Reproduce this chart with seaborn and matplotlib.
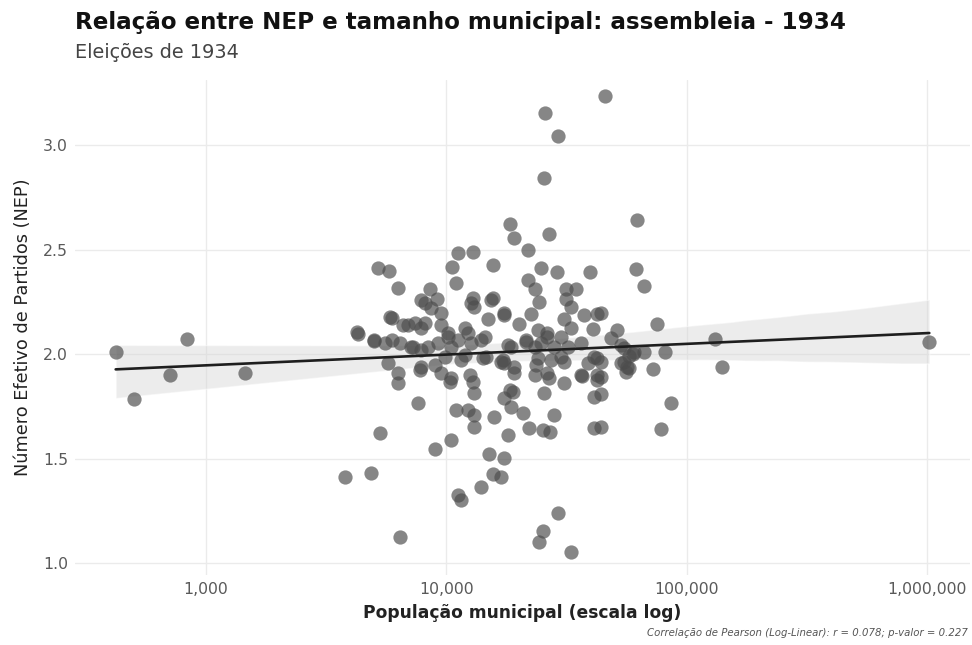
import numpy as np
import pandas as pd
import matplotlib
matplotlib.use("Agg")
import matplotlib.pyplot as plt
import matplotlib.ticker as mticker
import seaborn as sns

# log10 of municipal population
log_pop = [
    2.624, 2.700, 2.848, 2.921, 3.163, 3.627, 3.632, 3.700, 3.714, 3.723, 3.578, 3.686,
    4.660, 4.795, 4.788, 4.823, 4.876, 4.709, 4.685, 5.120, 5.148, 4.910, 4.823, 4.862,
    4.937, 4.892, 6.010, 4.643, 4.643, 4.643, 4.643, 4.643,
    4.411, 4.465, 4.407,
    4.263, 4.281, 4.339, 4.111, 4.049, 4.196, 4.025, 3.761, 4.339, 4.041, 3.800, 3.931,
    3.896, 3.963, 4.111, 4.196, 4.117, 3.938, 3.979, 4.242, 4.172, 3.765, 4.304, 3.820,
    3.868, 3.896, 3.700, 3.772, 3.806, 3.979, 4.076, 4.159, 4.007, 4.049, 4.104, 3.862,
    3.924, 3.966, 4.332, 4.270, 4.228, 4.283, 3.758, 3.800, 3.889, 4.151, 4.076,
    4.426, 4.394, 4.461, 4.599, 4.370, 4.497, 4.539, 4.387, 4.497, 4.519, 4.353, 4.574,
    4.627, 4.488, 4.519, 4.609, 4.380, 4.421, 4.477, 4.560, 4.332, 4.367, 4.450, 4.505,
    4.740, 4.781, 4.242, 4.373, 4.436, 4.491, 4.588, 4.615, 4.726, 4.761, 4.283, 4.421,
    4.560, 4.629, 4.367,
    3.800, 3.883, 3.979, 4.014, 4.097, 4.111, 4.117, 4.041, 4.090, 4.117, 4.117, 4.200,
    4.242, 4.276, 4.270, 4.318, 4.346, 4.256, 4.021, 3.951, 4.179, 4.242, 4.193, 4.228,
    4.145, 4.049, 4.062, 3.806,
    4.429, 4.491, 4.564, 4.629, 4.747, 4.408, 4.615, 4.450, 4.401, 4.433, 4.615, 4.465,
    4.401, 4.387, 4.519,
    4.007, 4.090, 4.021, 4.145, 4.166, 4.062, 3.993, 3.896, 3.855, 3.744, 3.896, 3.951,
    4.021, 4.187, 4.104, 3.910, 3.772, 3.841, 3.910, 4.242, 4.235,
    4.421, 4.256, 4.394, 4.726, 4.380, 4.477, 4.629, 4.263,
    4.760, 4.740, 4.775, 4.752,
]

# Effective number of parties (NEP)
nep = [
    2.008, 1.785, 1.900, 2.072, 1.911, 2.107, 2.095, 2.062, 2.410, 1.620, 1.413, 1.430,
    3.236, 2.641, 2.407, 2.325, 2.142, 2.115, 2.075, 2.070, 1.939, 2.011, 2.011, 1.928,
    1.764, 1.643, 2.059, 2.196, 1.960, 1.890, 1.810, 1.650,
    3.153, 3.043, 2.842,
    2.620, 2.554, 2.498, 2.490, 2.482, 2.426, 2.418, 2.397, 2.354, 2.341, 2.314, 2.309,
    2.258, 2.262, 2.266, 2.269, 2.226, 2.218, 2.194, 2.198, 2.167, 2.176, 2.144, 2.139,
    2.150, 2.123, 2.067, 2.067, 2.051, 2.139, 2.123, 2.083, 2.083, 2.067, 2.051, 2.035,
    2.035, 2.051, 2.067, 2.035, 1.963, 1.939, 1.955, 1.908, 1.923, 1.979, 1.995,
    2.573, 2.413, 2.394, 2.394, 2.309, 2.309, 2.309, 2.250, 2.262, 2.223, 2.190, 2.187,
    2.190, 2.167, 2.123, 2.118, 2.115, 2.083, 2.083, 2.051, 2.059, 2.035, 2.035, 2.035,
    2.027, 2.011, 1.955, 1.947, 1.971, 1.963, 1.955, 1.987, 1.955, 1.931, 1.908, 1.908,
    1.900, 1.900, 1.900,
    1.860, 1.764, 1.908, 1.867, 1.900, 1.867, 1.812, 1.732, 1.732, 1.708, 1.652, 1.700,
    1.788, 1.820, 1.748, 1.716, 1.644, 1.612, 1.589, 1.548, 1.522, 1.501, 1.426, 1.413,
    1.362, 1.325, 1.301, 1.126,
    1.884, 1.860, 1.895, 1.876, 1.915, 1.815, 1.796, 1.708, 1.636, 1.628, 1.644, 1.241,
    1.154, 1.102, 1.054,
    2.099, 2.099, 2.035, 2.067, 1.987, 1.971, 1.987, 2.019, 2.035, 2.051, 1.939, 1.947,
    1.884, 2.258, 2.243, 2.243, 2.171, 2.139, 2.147, 2.187, 1.971,
    2.099, 2.043, 2.051, 2.043, 1.979, 1.987, 1.979, 1.828,
    1.990, 1.960, 2.000, 1.940,
]

x_ticks = [1000, 10000, 100000, 1000000]
y_ticks = [1.0, 1.5, 2.0, 2.5, 3.0]

df = pd.DataFrame({"populacao": np.power(10.0, np.array(log_pop)), "nep": nep})

sns.set_theme(style="whitegrid")
plt.rcParams["font.family"] = ["DejaVu Sans"]

fig, ax = plt.subplots(figsize=(9.72, 6.45), dpi=100)
fig.subplots_adjust(left=75/972, right=970/972, top=1-80/645, bottom=1-575/645)
ax.set_xscale("log")

sns.regplot(
    data=df, x="populacao", y="nep", ax=ax, logx=True, ci=95, seed=3,
    scatter_kws=dict(s=105, color="#4d4d4d", alpha=0.68, linewidths=0, zorder=2),
    line_kws=dict(color="#1e1e1e", lw=1.9, zorder=3),
)
for coll in ax.collections[1:]:
    coll.set_facecolor("#d6d6d6")
    coll.set_alpha(0.45)
    coll.set_zorder(1)

lx = np.log10(df["populacao"])
lo, hi = lx.min(), lx.max()
pad = 0.05 * (hi - lo)
ax.set_xlim(10 ** (lo - pad), 10 ** (hi + pad))
ax.set_ylim(0.943, 3.311)

ax.set_xticks(x_ticks)
ax.xaxis.set_major_formatter(mticker.FuncFormatter(lambda v, p: f"{int(round(v)):,}"))
ax.xaxis.set_minor_locator(mticker.NullLocator())
ax.set_yticks(y_ticks)
ax.yaxis.set_major_formatter(mticker.FormatStrFormatter("%.1f"))

ax.set_facecolor("white")
for s in ax.spines.values():
    s.set_visible(False)
ax.grid(True, color="#ebebeb", lw=1.0)
ax.set_axisbelow(True)
ax.tick_params(axis="both", length=0, labelsize=11.3, labelcolor="#5a5a5a", pad=5)

ax.set_xlabel("População municipal (escala log)", fontsize=12.3, fontweight="bold",
              color="#222222", labelpad=5)
ax.set_ylabel("Número Efetivo de Partidos (NEP)", fontsize=12.8, color="#222222", labelpad=8)

fig.text(75/972, 1-29/645, "Relação entre NEP e tamanho municipal: assembleia - 1934",
         fontsize=16.6, fontweight="bold", color="#111111", va="baseline", ha="left")
fig.text(75/972, 1-58/645, "Eleições de 1934", fontsize=13.9, color="#444444",
         va="baseline", ha="left")
fig.text(968/972, 1-636/645,
         "Correlação de Pearson (Log-Linear): r = 0.078; p-valor = 0.227",
         fontsize=7.3, style="italic", color="#555555", ha="right", va="baseline")

fig.savefig("out.png", dpi=100, facecolor="white")
